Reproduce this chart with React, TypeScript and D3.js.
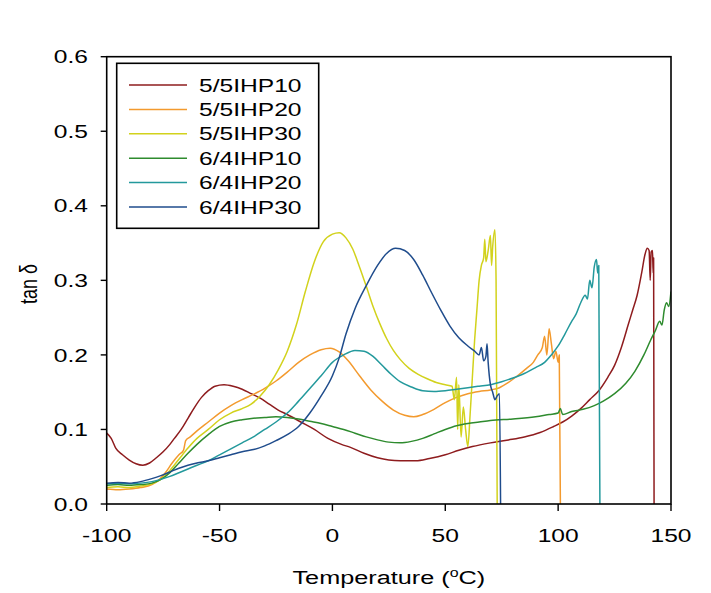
import React from "react";
import * as d3 from "d3";

const seriesNames = ["5/5IHP10", "5/5IHP20", "5/5IHP30", "6/4IHP10", "6/4IHP20", "6/4IHP30"];
const seriesColors = ["#8E1C1E", "#F39A2E", "#D2D21C", "#2E8B2E", "#23999C", "#1F4C8C"];

const xTicks = [-100, -50, 0, 50, 100, 150];
const yTicks = [0.0, 0.1, 0.2, 0.3, 0.4, 0.5, 0.6];

const ihp55_10: [number, number][] = [
  [-100, 0.095], [-98, 0.088], [-96, 0.075], [-93, 0.066], [-90, 0.059], [-87, 0.054], [-84, 0.052],
  [-81, 0.055], [-78, 0.062], [-75, 0.07], [-72, 0.08], [-70, 0.088], [-67, 0.1], [-64, 0.115],
  [-61, 0.13], [-58, 0.143], [-55, 0.152], [-52, 0.158], [-48, 0.16], [-44, 0.158], [-40, 0.154],
  [-36, 0.148], [-32, 0.142], [-28, 0.134], [-24, 0.126], [-20, 0.12], [-14, 0.11], [-8, 0.1],
  [-2, 0.088], [4, 0.08], [8, 0.076], [14, 0.068], [20, 0.062], [25, 0.059], [30, 0.058],
  [37, 0.058], [43, 0.061], [50, 0.066], [56, 0.072], [62, 0.077], [70, 0.082], [78, 0.086],
  [85, 0.09], [92, 0.096], [98, 0.104], [102, 0.11], [106, 0.118], [110, 0.128], [114, 0.14],
  [118, 0.152], [122, 0.17], [125, 0.186], [128, 0.21], [131, 0.24], [133, 0.26], [135, 0.28],
  [137, 0.31], [138.5, 0.335], [139.5, 0.343], [140.3, 0.34], [140.8, 0.3], [141.2, 0.338],
  [141.8, 0.34], [142.1, 0.31], [142.3, 0.33], [142.5, 0],
];

const ihp55_20: [number, number][] = [
  [-100, 0.02], [-95, 0.019], [-90, 0.02], [-85, 0.022], [-80, 0.026], [-77, 0.032], [-74, 0.042],
  [-71, 0.055], [-68, 0.066], [-66, 0.072], [-65, 0.085], [-63, 0.09], [-60, 0.098], [-55, 0.11],
  [-50, 0.122], [-45, 0.132], [-40, 0.14], [-35, 0.147], [-30, 0.155], [-25, 0.165], [-20, 0.177],
  [-15, 0.19], [-10, 0.2], [-5, 0.207], [-1, 0.209], [3, 0.204], [7, 0.192], [12, 0.172], [17, 0.153],
  [22, 0.138], [27, 0.126], [32, 0.119], [36, 0.117], [40, 0.12], [45, 0.127], [50, 0.136],
  [55, 0.143], [60, 0.148], [65, 0.151], [70, 0.153], [74, 0.156], [78, 0.163], [82, 0.172],
  [86, 0.182], [89, 0.19], [91, 0.2], [93, 0.21], [94, 0.225], [95, 0.2], [96, 0.235], [97, 0.215],
  [98, 0.195], [99, 0.205], [100, 0.19], [100.5, 0.2], [101, 0],
];

const ihp55_30: [number, number][] = [
  [-100, 0.022], [-95, 0.023], [-90, 0.022], [-85, 0.024], [-80, 0.027], [-76, 0.033], [-72, 0.045],
  [-68, 0.06], [-64, 0.075], [-60, 0.088], [-55, 0.1], [-50, 0.113], [-45, 0.122], [-40, 0.128],
  [-36, 0.134], [-32, 0.145], [-28, 0.16], [-24, 0.18], [-20, 0.205], [-16, 0.24], [-12, 0.285],
  [-8, 0.325], [-4, 0.352], [0, 0.362], [3, 0.364], [6, 0.357], [9, 0.342], [12, 0.318],
  [15, 0.292], [18, 0.265], [21, 0.242], [24, 0.222], [27, 0.206], [30, 0.194], [34, 0.182], [38, 0.174],
  [42, 0.168], [46, 0.163], [50, 0.16], [53, 0.158], [54, 0.14], [55, 0.17], [55.5, 0.1], [56, 0.16],
  [57, 0.09], [58, 0.13], [59, 0.1], [60, 0.077], [61, 0.12], [62, 0.17], [63, 0.22], [64, 0.26],
  [65, 0.3], [66, 0.32], [67, 0.33], [67.5, 0.355], [68, 0.325], [69, 0.34], [70, 0.36], [70.5, 0.32],
  [71, 0.345], [72, 0.368], [72.5, 0.3], [73, 0],
];

const ihp64_10: [number, number][] = [
  [-100, 0.025], [-95, 0.026], [-90, 0.025], [-85, 0.026], [-80, 0.028], [-76, 0.033], [-72, 0.042],
  [-68, 0.055], [-64, 0.068], [-60, 0.08], [-55, 0.093], [-50, 0.104], [-45, 0.11], [-40, 0.113],
  [-35, 0.115], [-30, 0.116], [-25, 0.117], [-20, 0.116], [-15, 0.114], [-10, 0.111], [-5, 0.108],
  [0, 0.104], [5, 0.1], [10, 0.095], [15, 0.09], [20, 0.086], [25, 0.083], [30, 0.082], [35, 0.084],
  [40, 0.088], [45, 0.094], [50, 0.1], [55, 0.105], [60, 0.108], [65, 0.11], [70, 0.112], [80, 0.114],
  [90, 0.117], [96, 0.12], [100, 0.122], [101, 0.128], [102, 0.12], [106, 0.124], [111, 0.127],
  [116, 0.132], [120, 0.138], [125, 0.148], [130, 0.162], [134, 0.178], [138, 0.2], [141, 0.22],
  [143, 0.232], [145, 0.245], [146, 0.24], [147, 0.26], [148, 0.27], [149, 0.265], [150, 0.285],
];

const ihp64_20: [number, number][] = [
  [-100, 0.027], [-95, 0.028], [-90, 0.027], [-85, 0.028], [-80, 0.03], [-76, 0.033], [-72, 0.037],
  [-68, 0.042], [-64, 0.047], [-60, 0.052], [-55, 0.058], [-50, 0.066], [-45, 0.074], [-40, 0.082],
  [-35, 0.09], [-30, 0.1], [-25, 0.11], [-20, 0.122], [-15, 0.138], [-10, 0.155], [-5, 0.172],
  [0, 0.19], [5, 0.2], [10, 0.206], [14, 0.205], [18, 0.198], [22, 0.186], [26, 0.174], [30, 0.164],
  [35, 0.157], [40, 0.152], [45, 0.151], [50, 0.152], [55, 0.154], [60, 0.156], [65, 0.158],
  [70, 0.16], [75, 0.164], [80, 0.169], [85, 0.175], [90, 0.183], [94, 0.19], [97, 0.2], [100, 0.212],
  [103, 0.228], [106, 0.245], [108, 0.255], [110, 0.27], [112, 0.28], [113, 0.275], [114, 0.3],
  [115, 0.29], [116, 0.318], [117, 0.328], [117.5, 0.31], [118, 0.32], [118.5, 0],
];

const ihp64_30: [number, number][] = [
  [-100, 0.028], [-95, 0.029], [-90, 0.028], [-85, 0.03], [-80, 0.034], [-76, 0.038], [-72, 0.043],
  [-68, 0.048], [-64, 0.052], [-60, 0.055], [-55, 0.058], [-50, 0.062], [-45, 0.066], [-40, 0.07],
  [-35, 0.073], [-30, 0.078], [-25, 0.085], [-20, 0.093], [-15, 0.104], [-10, 0.122], [-5, 0.145],
  [0, 0.172], [3, 0.196], [6, 0.228], [10, 0.262], [15, 0.293], [20, 0.32], [24, 0.336], [28, 0.343],
  [32, 0.34], [36, 0.328], [40, 0.307], [44, 0.283], [48, 0.26], [52, 0.239], [56, 0.223], [60, 0.212],
  [63, 0.205], [65, 0.2], [66, 0.21], [67, 0.192], [68, 0.198], [68.5, 0.215], [69, 0.19], [70, 0.16],
  [71, 0.15], [72, 0.14], [73, 0.145], [74, 0.148], [74.5, 0],
];

const seriesData = [ihp55_10, ihp55_20, ihp55_30, ihp64_10, ihp64_20, ihp64_30];

const W = 711;
const H = 593;
const left = 106.7;
const right = 671;
const top = 56.7;
const bottom = 504;
const SX = 1.33;
const FONT = "'Liberation Sans', Arial, sans-serif";

export default function App() {
  const x = d3.scaleLinear().domain([-100, 150]).range([left, right]);
  const y = d3.scaleLinear().domain([0, 0.6]).range([bottom, top]);
  const line = d3
    .line<[number, number]>()
    .x((d) => x(d[0]))
    .y((d) => y(d[1]))
    .curve(d3.curveMonotoneX);

  const legX = 116.7;
  const legY = 63.3;
  const legW = 202;
  const legH = 165;
  const rowH = 24.4;

  return (
    <svg width={W} height={H} style={{ position: "absolute", left: 0, top: 0, background: "#fff" }}>
      <rect x={0} y={0} width={W} height={H} fill="#fff" />
      <defs>
        <clipPath id="plotclip">
          <rect x={left} y={top} width={right - left} height={bottom - top} />
        </clipPath>
      </defs>
      <g clipPath="url(#plotclip)">
        {seriesData.map((s, i) => (
          <path key={i} d={line(s) || ""} fill="none" stroke={seriesColors[i]} strokeWidth={1.5} strokeLinejoin="round" />
        ))}
      </g>
      <rect x={left} y={top} width={right - left} height={bottom - top} fill="none" stroke="#000" strokeWidth={1.6} />
      {yTicks.map((t) => (
        <g key={"y" + t}>
          <line x1={left - 6} x2={left} y1={y(t)} y2={y(t)} stroke="#000" strokeWidth={1.4} />
          <text
            transform={`translate(88,${y(t)}) scale(${SX},1)`}
            textAnchor="end"
            dy="0.36em"
            fontFamily={FONT}
            fontSize={18.5}
            fill="#000"
          >
            {d3.format(".1f")(t)}
          </text>
        </g>
      ))}
      {xTicks.map((t) => (
        <g key={"x" + t}>
          <line x1={x(t)} x2={x(t)} y1={bottom} y2={bottom + 7} stroke="#000" strokeWidth={1.4} />
          <text
            transform={`translate(${x(t)},${bottom + 38}) scale(${SX},1)`}
            textAnchor="middle"
            fontFamily={FONT}
            fontSize={18.5}
            fill="#000"
          >
            {t}
          </text>
        </g>
      ))}
      <text
        transform={`translate(${(left + right) / 2},584) scale(${SX},1)`}
        textAnchor="middle"
        fontFamily={FONT}
        fontSize={19}
        fill="#000"
      >
        Temperature (<tspan dy="-7" fontSize={12}>o</tspan>
        <tspan dy="7">C)</tspan>
      </text>
      <text
        transform={`translate(37,284) scale(${SX},1) rotate(-90)`}
        textAnchor="middle"
        fontFamily={FONT}
        fontSize={18}
        fill="#000"
      >
        tan δ
      </text>
      <rect x={legX} y={legY} width={legW} height={legH} fill="#fff" stroke="#000" strokeWidth={1.6} />
      {seriesNames.map((n, i) => {
        const ry = 85 + i * rowH;
        return (
          <g key={n}>
            <line x1={129} x2={187} y1={ry} y2={ry} stroke={seriesColors[i]} strokeWidth={1.5} />
            <text
              transform={`translate(199,${ry}) scale(${SX},1)`}
              dy="0.36em"
              fontFamily={FONT}
              fontSize={18.5}
              fill="#000"
            >
              {n}
            </text>
          </g>
        );
      })}
    </svg>
  );
}
